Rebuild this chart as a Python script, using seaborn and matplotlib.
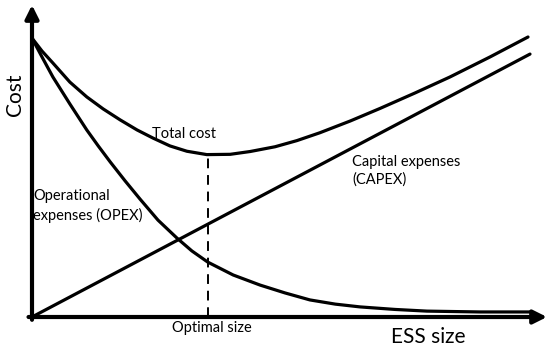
import matplotlib
matplotlib.use("Agg")
import matplotlib.pyplot as plt
import seaborn as sns
import pandas as pd

# ---- data (conceptual curves) ----
opex_x = [0, 0.20, 0.42, 0.76, 1.10, 1.33, 1.57, 1.87, 2.17, 2.53, 2.91, 3.21,
          3.53, 4.04, 4.58, 5.08, 5.58, 6.09, 6.59, 7.29, 7.93, 9.00, 10.0]
opex_y = [9.96, 9.29, 8.57, 7.61, 6.68, 6.11, 5.54, 4.86, 4.21, 3.46, 2.82, 2.36,
          1.96, 1.50, 1.14, 0.86, 0.61, 0.46, 0.36, 0.27, 0.21, 0.18, 0.18]

total_x = [0, 0.20, 0.42, 0.76, 1.10, 1.43, 1.77, 2.11, 2.43, 2.77, 3.11, 3.51,
           3.98, 4.38, 4.88, 5.32, 5.78, 6.39, 6.99, 7.69, 8.39, 9.20, 9.96]
total_y = [9.96, 9.50, 9.07, 8.39, 7.86, 7.43, 7.04, 6.68, 6.39, 6.11, 5.92, 5.80,
           5.81, 5.91, 6.08, 6.30, 6.58, 7.00, 7.45, 8.00, 8.57, 9.29, 10.0]

capex_x = [0, 10.0]
capex_y = [0, 9.39]

optimal_x = 3.53
optimal_y = 5.80

labels = {
    "ylabel": "Cost",
    "xlabel": "ESS size",
    "optimal": "Optimal size",
    "total": "Total cost",
    "capex": "Capital expenses\n(CAPEX)",
    "opex": "Operational\nexpenses (OPEX)",
}

sns.set_theme(style="white")
plt.rcParams["font.family"] = ["Lato", "DejaVu Sans"]

W, H = 550, 348
fig = plt.figure(figsize=(W / 100, H / 100), dpi=100)
ax = fig.add_axes([0, 0, 1, 1])
ax.set_xlim(-32 / 49.8, 518 / 49.8)
ax.set_ylim((317 - 348) / 28, 317 / 28)
ax.axis("off")

lw = 2.3
for xs, ys in [(opex_x, opex_y), (total_x, total_y), (capex_x, capex_y)]:
    df = pd.DataFrame({"x": xs, "y": ys})
    sns.lineplot(data=df, x="x", y="y", ax=ax, color="black", linewidth=lw,
                 sort=False, estimator=None)
for ln in ax.lines:
    ln.set_solid_joinstyle("round")
    ln.set_solid_capstyle("round")

ax.plot([optimal_x, optimal_x], [0, optimal_y], color="black", lw=1.4,
        linestyle=(0, (5, 3.5)))

# axes with arrows
arrow = dict(arrowstyle="-|>", lw=3, mutation_scale=20, color="black",
             shrinkA=0, shrinkB=0)
ax.annotate("", xy=(0, (317 - 5) / 28), xytext=(0, -0.1), arrowprops=arrow)
ax.annotate("", xy=((547 - 32) / 49.8, 0), xytext=(-0.07, 0), arrowprops=arrow)

def ftext(px, py, s, **kw):
    fig.text(px / W, 1 - py / H, s, color="black", **kw)

ftext(15, 95, labels["ylabel"], rotation=90, ha="center", va="center", fontsize=15)
ftext(428, 337, labels["xlabel"], ha="center", va="center", fontsize=15)
ftext(212, 328, labels["optimal"], ha="center", va="center", fontsize=10.5)
ftext(184, 134, labels["total"], ha="center", va="center", fontsize=10.5)
ftext(352, 171, labels["capex"], ha="left", va="center", fontsize=10.5, linespacing=1.35)
ftext(33, 206, labels["opex"], ha="left", va="center", fontsize=10.5, linespacing=1.35)

fig.savefig("out.png", dpi=100)
